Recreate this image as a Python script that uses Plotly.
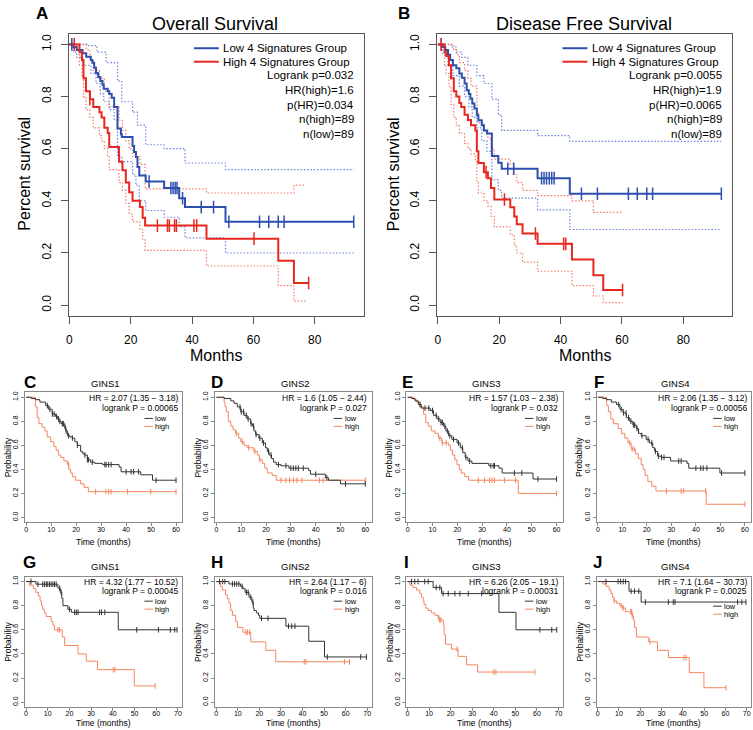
import plotly.graph_objects as go
from bisect import bisect_right

W, H = 753, 730
FONT = "Liberation Sans, Arial, sans-serif"

# ---------------- Panel A : Overall Survival (GEPIA) ----------------
A_low_t = [0, 1.3, 2.4, 4.3, 5.5, 7.0, 7.5, 8.1, 8.7, 9.4, 10.1, 10.8, 11.2, 12.5, 13.0, 13.8, 14.6, 15.7, 16.8, 17.1, 20.6, 21.1, 21.7, 22.2, 22.8, 24.9, 30.9, 35.8, 37.7, 50.9, 92.7]
A_low_s = [1.0, 0.99, 0.978, 0.966, 0.953, 0.94, 0.93, 0.91, 0.89, 0.875, 0.86, 0.845, 0.83, 0.82, 0.81, 0.795, 0.76, 0.677, 0.655, 0.645, 0.61, 0.587, 0.568, 0.53, 0.497, 0.474, 0.449, 0.41, 0.376, 0.32, 0.32]
A_low_c = [0.8, 26.0, 33.1, 33.8, 34.5, 35.1, 36.9, 43.0, 47.0, 52.0, 62.0, 65.0, 68.1, 70.0, 92.7]
A_high_t = [0, 3.3, 4.1, 4.6, 5.4, 6.7, 7.8, 9.8, 10.5, 11.4, 12.5, 13.0, 16.2, 17.3, 18.4, 19.5, 20.6, 23.0, 23.9, 24.7, 44.7, 68.1, 73.2, 78.0]
A_high_s = [1.0, 0.97, 0.94, 0.87, 0.82, 0.79, 0.76, 0.74, 0.72, 0.68, 0.66, 0.606, 0.55, 0.517, 0.47, 0.433, 0.40, 0.376, 0.335, 0.305, 0.255, 0.17, 0.085, 0.085]
A_high_c = [1.6, 6.7, 28.7, 32.0, 32.6, 34.3, 34.9, 40.6, 41.5, 60.2, 78.0]
A_low_up_t = [0, 6.0, 9.0, 12.0, 15.7, 17.1, 20.6, 22.2, 24.9, 30.9, 37.7, 50.9, 92.7]
A_low_up_s = [1.0, 0.995, 0.97, 0.93, 0.86, 0.78, 0.74, 0.69, 0.615, 0.6, 0.545, 0.52, 0.52]
A_low_lo_t = [0, 1.3, 2.4, 4.3, 7.0, 8.7, 10.1, 11.2, 13.0, 14.6, 15.7, 17.1, 20.6, 21.7, 22.8, 24.9, 30.9, 35.8, 37.7, 50.9, 92.7]
A_low_lo_s = [1.0, 0.97, 0.95, 0.92, 0.89, 0.85, 0.81, 0.78, 0.75, 0.71, 0.57, 0.55, 0.5, 0.46, 0.40, 0.363, 0.337, 0.30, 0.258, 0.2, 0.2]
A_high_up_t = [0, 5.4, 6.7, 7.8, 9.8, 11.4, 13.0, 16.2, 17.3, 18.4, 19.5, 20.6, 23.0, 24.7, 44.7, 68.1, 73.2, 77.0]
A_high_up_s = [1.0, 0.98, 0.94, 0.9, 0.87, 0.82, 0.76, 0.71, 0.67, 0.63, 0.6, 0.57, 0.54, 0.446, 0.43, 0.43, 0.46, 0.46]
A_high_lo_t = [0, 3.3, 4.1, 4.6, 5.4, 6.7, 7.8, 9.8, 10.5, 11.4, 12.5, 13.0, 16.2, 17.3, 18.4, 19.5, 20.6, 23.0, 23.9, 24.7, 44.7, 68.1, 73.2, 77.0]
A_high_lo_s = [1.0, 0.92, 0.88, 0.8, 0.75, 0.72, 0.68, 0.65, 0.63, 0.6, 0.57, 0.52, 0.47, 0.44, 0.39, 0.35, 0.32, 0.29, 0.25, 0.21, 0.15, 0.075, 0.015, 0.015]

# ---------------- Panel B : Disease Free Survival (GEPIA) ----------------
B_low_t = [0, 1.6, 2.4, 3.3, 4.0, 4.9, 6.0, 7.0, 7.8, 8.7, 9.4, 10.1, 10.6, 11.2, 11.9, 12.7, 13.2, 14.3, 15.0, 16.0, 17.6, 19.7, 20.8, 32.5, 43.0, 92.4]
B_low_s = [1.0, 0.99, 0.978, 0.96, 0.94, 0.92, 0.908, 0.888, 0.872, 0.85, 0.824, 0.81, 0.792, 0.773, 0.754, 0.728, 0.709, 0.69, 0.67, 0.658, 0.572, 0.546, 0.523, 0.487, 0.427, 0.427]
B_low_c = [1.1, 22.8, 24.7, 33.8, 34.6, 35.4, 36.3, 37.1, 37.9, 46.8, 52.0, 62.1, 65.0, 68.1, 70.0, 92.4]
B_high_t = [0, 2.2, 2.7, 3.6, 4.3, 5.2, 6.0, 7.0, 7.6, 8.7, 9.8, 10.8, 12.2, 12.7, 13.2, 15.0, 16.3, 17.3, 18.4, 23.6, 24.9, 25.7, 27.6, 32.5, 43.7, 50.7, 53.9, 60.2]
B_high_s = [1.0, 0.97, 0.955, 0.92, 0.87, 0.82, 0.80, 0.775, 0.76, 0.73, 0.71, 0.69, 0.67, 0.59, 0.545, 0.51, 0.487, 0.449, 0.405, 0.375, 0.34, 0.31, 0.275, 0.235, 0.175, 0.115, 0.058, 0.058]
B_high_c = [1.1, 15.7, 21.7, 31.8, 41.0, 41.7, 60.2]
B_low_up_t = [0, 4.3, 6.0, 7.8, 9.8, 12.7, 15.0, 17.6, 19.7, 20.8, 32.5, 43.0, 92.4]
B_low_up_s = [1.0, 0.99, 0.97, 0.95, 0.92, 0.88, 0.85, 0.79, 0.73, 0.67, 0.65, 0.628, 0.628]
B_low_lo_t = [0, 1.6, 3.3, 4.9, 7.0, 8.7, 10.1, 11.2, 12.7, 14.3, 16.0, 17.6, 19.7, 20.8, 32.5, 43.0, 92.4]
B_low_lo_s = [1.0, 0.96, 0.92, 0.88, 0.84, 0.80, 0.76, 0.72, 0.68, 0.63, 0.59, 0.48, 0.44, 0.41, 0.365, 0.29, 0.29]
B_high_up_t = [0, 5.2, 6.0, 7.0, 8.7, 9.8, 10.8, 12.7, 13.2, 15.0, 16.3, 17.3, 18.4, 23.6, 24.9, 25.7, 27.6, 32.5, 43.7, 50.7, 53.9, 60.2]
B_high_up_s = [1.0, 0.98, 0.96, 0.93, 0.9, 0.87, 0.84, 0.74, 0.7, 0.67, 0.64, 0.6, 0.56, 0.54, 0.5, 0.47, 0.44, 0.42, 0.40, 0.356, 0.356, 0.356]
B_high_lo_t = [0, 2.2, 2.7, 3.6, 4.3, 5.2, 6.0, 7.0, 8.7, 9.8, 10.8, 12.2, 12.7, 13.2, 15.0, 16.3, 17.3, 18.4, 23.6, 24.9, 25.7, 27.6, 32.5, 43.7, 50.7, 53.9, 60.2]
B_high_lo_s = [1.0, 0.92, 0.89, 0.84, 0.77, 0.72, 0.69, 0.66, 0.62, 0.6, 0.58, 0.55, 0.47, 0.43, 0.4, 0.38, 0.34, 0.3, 0.27, 0.23, 0.2, 0.165, 0.13, 0.075, 0.035, 0.01, 0.01]

GEPIA_TITLES = ["Overall Survival", "Disease Free Survival"]
GEPIA_STATS = [
    ["Logrank p=0.032", "HR(high)=1.6", "p(HR)=0.034", "n(high)=89", "n(low)=89"],
    ["Logrank p=0.0055", "HR(high)=1.9", "p(HR)=0.0065", "n(high)=89", "n(low)=89"],
]
GEPIA_LEGEND = ["Low 4 Signatures Group", "High 4 Signatures Group"]
GEPIA_XTICKS = [0, 20, 40, 60, 80]
YTICKS = [0.0, 0.2, 0.4, 0.6, 0.8, 1.0]
YTICK_LABELS = ["0.0", "0.2", "0.4", "0.6", "0.8", "1.0"]

# ---------------- Panels C-F : KM plotter, OS ----------------
C_low_t = [0, 2.0, 3.7, 5.5, 7.8, 9.0, 10.4, 11.8, 12.5, 13.1, 14.0, 15.1, 15.8, 16.5, 17.5, 18.5, 19.5, 20.5, 21.8, 22.5, 23.2, 24.5, 25.8, 27.5, 30.5, 37.2, 38.0, 45.9, 50.6, 60.0]
C_low_s = [1.0, 0.99, 0.98, 0.96, 0.93, 0.90, 0.86, 0.84, 0.82, 0.80, 0.78, 0.76, 0.72, 0.68, 0.67, 0.66, 0.63, 0.60, 0.55, 0.535, 0.52, 0.48, 0.46, 0.45, 0.44, 0.42, 0.38, 0.355, 0.31, 0.31]
C_low_c = [8.5, 9.5, 10.5, 11.2, 12.2, 13.0, 13.5, 14.5, 15.0, 15.5, 16.0, 17.0, 18.5, 20.5, 23.5, 24.5, 25.0, 26.5, 31.5, 32.0, 33.0, 34.0, 40.0, 42.0, 43.0, 45.0, 52.0, 60.0]
C_high_t = [0, 3.7, 4.4, 5.1, 6.4, 7.5, 8.4, 9.8, 11.1, 12.0, 12.9, 13.8, 15.1, 16.5, 17.1, 17.8, 18.5, 19.8, 21.8, 23.2, 24.9, 60.0]
C_high_s = [1.0, 0.92, 0.83, 0.78, 0.75, 0.72, 0.67, 0.63, 0.59, 0.56, 0.52, 0.50, 0.47, 0.44, 0.40, 0.37, 0.34, 0.31, 0.28, 0.25, 0.215, 0.215]
C_high_c = [17.0, 27.8, 31.9, 33.0, 34.0, 40.6, 49.9, 60.0]

D_low_t = [0, 3.1, 5.8, 7.1, 8.4, 9.8, 11.1, 12.4, 13.8, 14.5, 15.1, 15.8, 17.1, 18.5, 19.8, 20.5, 21.2, 22.2, 23.0, 24.1, 26.0, 29.2, 37.2, 37.9, 43.9, 45.2, 50.0, 60.0]
D_low_s = [1.0, 0.99, 0.97, 0.95, 0.92, 0.88, 0.85, 0.82, 0.78, 0.76, 0.72, 0.69, 0.66, 0.62, 0.58, 0.55, 0.52, 0.49, 0.46, 0.44, 0.43, 0.41, 0.39, 0.36, 0.33, 0.31, 0.28, 0.28]
D_low_c = [9.5, 10.0, 11.0, 12.0, 12.8, 14.0, 15.0, 16.0, 17.5, 19.0, 21.0, 22.0, 25.0, 28.0, 30.0, 31.0, 32.0, 33.0, 35.0, 40.0, 44.5, 52.0, 60.0]
D_high_t = [0, 3.1, 3.5, 4.0, 4.8, 5.8, 6.7, 7.7, 9.0, 9.8, 11.1, 12.4, 15.1, 16.5, 17.3, 18.5, 19.5, 20.5, 22.5, 24.1, 60.0]
D_high_s = [1.0, 0.96, 0.92, 0.88, 0.80, 0.76, 0.73, 0.70, 0.66, 0.63, 0.60, 0.58, 0.55, 0.52, 0.48, 0.45, 0.41, 0.37, 0.35, 0.31, 0.31]
D_high_c = [8.0, 10.5, 13.0, 15.5, 17.5, 26.0, 28.0, 29.5, 31.0, 32.5, 34.5, 41.5, 43.0, 60.0]

E_low_t = [0, 1.6, 3.0, 4.3, 5.5, 9.1, 10.4, 11.8, 13.1, 14.5, 15.4, 16.5, 17.8, 19.9, 21.2, 22.2, 23.2, 24.3, 25.9, 32.7, 36.8, 38.1, 50.5, 60.0]
E_low_s = [1.0, 0.99, 0.97, 0.94, 0.91, 0.89, 0.85, 0.82, 0.79, 0.76, 0.72, 0.68, 0.65, 0.62, 0.58, 0.54, 0.50, 0.47, 0.45, 0.43, 0.41, 0.37, 0.32, 0.32]
E_low_c = [5.0, 7.0, 8.5, 10.0, 11.5, 12.5, 13.5, 14.0, 15.0, 16.0, 17.0, 18.5, 20.5, 22.0, 23.5, 25.0, 33.5, 34.5, 35.0, 43.0, 46.0, 52.5, 60.0]
E_high_t = [0, 2.5, 3.6, 5.0, 6.4, 7.3, 8.3, 9.5, 11.0, 12.4, 13.8, 16.5, 17.2, 18.1, 19.0, 19.9, 20.8, 21.6, 23.0, 24.6, 44.6, 60.0]
E_high_s = [1.0, 0.98, 0.96, 0.92, 0.86, 0.79, 0.76, 0.72, 0.70, 0.66, 0.62, 0.60, 0.56, 0.52, 0.48, 0.44, 0.40, 0.37, 0.34, 0.31, 0.20, 0.20]
E_high_c = [13.0, 14.0, 15.5, 28.5, 31.0, 33.0, 34.0, 35.0, 39.0, 43.5, 60.0]

F_low_t = [0, 2.0, 3.6, 5.5, 7.6, 9.0, 10.3, 11.6, 13.0, 14.3, 15.7, 16.6, 17.7, 19.7, 21.0, 22.4, 23.2, 24.4, 25.8, 29.7, 36.4, 37.1, 49.8, 60.0]
F_low_s = [1.0, 0.99, 0.98, 0.96, 0.94, 0.90, 0.87, 0.83, 0.80, 0.77, 0.74, 0.70, 0.68, 0.65, 0.62, 0.58, 0.55, 0.51, 0.50, 0.47, 0.45, 0.41, 0.37, 0.37]
F_low_c = [8.5, 9.5, 10.5, 11.5, 12.5, 13.5, 14.5, 15.0, 16.0, 18.0, 20.5, 22.0, 23.5, 24.8, 26.0, 27.0, 33.0, 34.0, 40.0, 42.0, 43.0, 44.5, 50.5, 60.0]
F_high_t = [0, 3.6, 4.3, 5.3, 6.3, 8.3, 9.6, 11.0, 12.3, 13.6, 15.3, 16.5, 17.7, 18.5, 19.3, 20.4, 22.0, 23.7, 44.2, 60.0]
F_high_s = [1.0, 0.93, 0.88, 0.82, 0.78, 0.74, 0.70, 0.66, 0.62, 0.57, 0.53, 0.49, 0.44, 0.40, 0.35, 0.30, 0.26, 0.22, 0.11, 0.11]
F_high_c = [13.0, 14.0, 14.8, 28.0, 34.0, 35.0, 44.0, 60.0]

# ---------------- Panels G-J : KM plotter, second cohort ----------------
G_low_t = [0, 4.6, 14.7, 15.8, 16.5, 17.0, 19.3, 20.9, 42.5, 69.6]
G_low_s = [1.0, 0.978, 0.945, 0.91, 0.86, 0.80, 0.77, 0.745, 0.60, 0.60]
G_low_c = [2.3, 5.5, 7.7, 8.5, 9.3, 10.0, 10.8, 11.6, 12.4, 13.1, 13.9, 15.5, 16.2, 20.0, 22.4, 23.2, 24.0, 33.9, 34.8, 36.3, 51.0, 61.0, 66.5, 68.5, 69.6]
G_high_t = [0, 1.5, 3.4, 4.6, 5.7, 6.5, 7.1, 7.7, 8.5, 9.3, 11.6, 12.4, 13.1, 16.7, 17.8, 24.0, 27.8, 32.9, 49.9, 59.5]
G_high_s = [1.0, 0.97, 0.94, 0.91, 0.88, 0.84, 0.80, 0.77, 0.74, 0.71, 0.67, 0.64, 0.60, 0.54, 0.47, 0.40, 0.34, 0.27, 0.135, 0.135]
G_high_c = [14.7, 15.5, 40.2, 41.0, 59.5]

H_low_t = [0, 5.9, 11.3, 12.4, 13.4, 15.2, 16.5, 17.2, 17.5, 18.6, 19.6, 20.2, 32.3, 42.9, 50.2, 69.6]
H_low_s = [1.0, 0.98, 0.96, 0.94, 0.91, 0.87, 0.83, 0.78, 0.76, 0.74, 0.72, 0.695, 0.63, 0.505, 0.375, 0.375]
H_low_c = [1.5, 3.0, 4.0, 7.5, 8.5, 9.5, 10.5, 12.0, 14.0, 14.8, 16.0, 17.0, 21.0, 24.0, 33.5, 35.0, 36.5, 51.5, 67.0, 69.6]
H_high_t = [0, 2.0, 2.8, 4.3, 5.1, 5.9, 6.7, 7.5, 9.0, 9.8, 12.4, 16.0, 23.0, 27.6, 61.8]
H_high_s = [1.0, 0.96, 0.93, 0.89, 0.86, 0.82, 0.76, 0.72, 0.67, 0.62, 0.58, 0.50, 0.43, 0.335, 0.335]
H_high_c = [13.7, 14.5, 15.5, 40.8, 41.6, 59.5, 61.8]

I_low_t = [0, 11.9, 15.8, 42.4, 50.3, 69.2]
I_low_s = [1.0, 0.95, 0.90, 0.745, 0.60, 0.60]
I_low_c = [1.9, 3.4, 4.9, 8.0, 9.6, 13.3, 15.0, 16.5, 18.9, 22.0, 24.3, 28.2, 34.4, 61.4, 66.9, 69.2]
I_high_t = [0, 1.1, 2.5, 4.2, 5.7, 6.5, 7.3, 7.7, 8.5, 9.6, 11.1, 12.7, 14.2, 15.0, 16.6, 17.0, 17.6, 20.4, 23.5, 27.4, 32.5, 59.1]
I_high_s = [1.0, 0.97, 0.95, 0.93, 0.90, 0.87, 0.84, 0.81, 0.78, 0.76, 0.74, 0.72, 0.70, 0.68, 0.64, 0.56, 0.48, 0.44, 0.38, 0.31, 0.25, 0.25]
I_high_c = [14.5, 15.0, 15.5, 23.0, 40.0, 41.0, 59.1]

J_low_t = [0, 14.7, 20.4, 69.6]
J_low_s = [1.0, 0.92, 0.83, 0.83]
J_low_c = [3.9, 9.6, 10.8, 12.0, 13.1, 15.7, 17.3, 19.3, 22.4, 33.2, 35.5, 36.3, 65.7, 67.7, 69.6]
J_high_t = [0, 2.3, 3.9, 5.4, 6.2, 7.0, 7.7, 8.9, 10.4, 11.6, 13.1, 16.2, 16.7, 17.3, 18.2, 24.0, 28.1, 33.2, 43.0, 49.9, 60.3]
J_high_s = [1.0, 0.98, 0.96, 0.93, 0.90, 0.87, 0.84, 0.82, 0.80, 0.78, 0.75, 0.72, 0.68, 0.62, 0.54, 0.50, 0.43, 0.37, 0.245, 0.12, 0.12]
J_high_c = [7.7, 11.0, 12.0, 15.5, 15.8, 16.2, 24.5, 40.5, 41.5, 60.3]

KM_GENES = ["GINS1", "GINS2", "GINS3", "GINS4", "GINS1", "GINS2", "GINS3", "GINS4"]
KM_HR = ["HR = 2.07 (1.35 − 3.18)", "HR = 1.6 (1.05 − 2.44)", "HR = 1.57 (1.03 − 2.38)", "HR = 2.06 (1.35 − 3.12)",
         "HR = 4.32 (1.77 − 10.52)", "HR = 2.64 (1.17 − 6)", "HR = 6.26 (2.05 − 19.1)", "HR = 7.1 (1.64 − 30.73)"]
KM_P = ["logrank P = 0.00065", "logrank P = 0.027", "logrank P = 0.032", "logrank P = 0.00056",
        "logrank P = 0.00045", "logrank P = 0.016", "logrank P = 0.00031", "logrank P = 0.0025"]
KM_LETTERS = ["C", "D", "E", "F", "G", "H", "I", "J"]
KM_XTICKS_ROW2 = [0, 10, 20, 30, 40, 50, 60]
KM_XTICKS_ROW3 = [0, 10, 20, 30, 40, 50, 60, 70]

# ---------------- styling ----------------
BLUE = "#2c50ae"
RED = "#e8261e"
BLUE_CI = "rgba(80,110,215,0.85)"
RED_CI = "rgba(242,100,80,0.85)"
LOW_KM = "#333333"
HIGH_KM = "#f4865f"
BOX_G = "#555555"
BOX_K = "#8a8a8a"


def fx(p):
    return p / W


def fy(p):
    return 1 - p / H


def step_at(t, s, x):
    i = bisect_right(t, x) - 1
    return s[max(i, 0)]


fig = go.Figure()
layout_axes = {}
annotations = []
shapes = []


def names(i):
    return ("x", "y", "xaxis", "yaxis") if i == 1 else (f"x{i}", f"y{i}", f"xaxis{i}", f"yaxis{i}")


def add_axes(i, box, xr, xtv, lc, tfs, tlen, xstand, ystand):
    xn, yn, xk, yk = names(i)
    x0, y0, x1, y1 = box
    common = dict(ticks="outside", ticklen=tlen, tickwidth=1, tickcolor=lc, showline=True,
                  linecolor=lc, linewidth=1, mirror=True, showgrid=False, zeroline=False,
                  tickfont=dict(family=FONT, size=tfs, color="black"), fixedrange=True)
    layout_axes[xk] = dict(domain=[fx(x0), fx(x1)], range=xr, tickvals=xtv,
                           ticktext=[str(v) for v in xtv], anchor=yn,
                           ticklabelstandoff=xstand, **common)
    layout_axes[yk] = dict(domain=[fy(y1), fy(y0)], range=[-0.04, 1.04], tickvals=YTICKS,
                           ticktext=YTICK_LABELS, tickangle=-90, anchor=xn,
                           ticklabelstandoff=ystand, **common)
    return xn, yn


def line(xn, yn, t, s, color, width, dash="solid"):
    fig.add_trace(go.Scatter(x=t, y=s, xaxis=xn, yaxis=yn, mode="lines", line_shape="hv",
                             line=dict(color=color, width=width, dash=dash),
                             hoverinfo="skip", showlegend=False))


def cens(xn, yn, t, s, c, color, size, width):
    fig.add_trace(go.Scatter(x=c, y=[step_at(t, s, v) for v in c], xaxis=xn, yaxis=yn,
                             mode="markers",
                             marker=dict(symbol="line-ns", size=size, color=color,
                                         line=dict(color=color, width=width)),
                             hoverinfo="skip", showlegend=False))


def text(x, y, s, size, anchor="center", bold=False, color="black", angle=0):
    annotations.append(dict(x=fx(x), y=fy(y), xref="paper", yref="paper", text=(f"<b>{s}</b>" if bold else s),
                            showarrow=False, xanchor=anchor, yanchor="middle", textangle=angle,
                            borderpad=0, font=dict(family=FONT, size=size, color=color)))


def seg(x0, x1, y, color, width):
    shapes.append(dict(type="line", xref="paper", yref="paper", x0=fx(x0), x1=fx(x1), y0=fy(y), y1=fy(y),
                       line=dict(color=color, width=width)))


# ---------------- GEPIA panels ----------------
gepia = [
    dict(box=(66, 33, 362, 315), letter="A", lx=39,
         low=(A_low_t, A_low_s, A_low_c), high=(A_high_t, A_high_s, A_high_c),
         ci=[(A_low_up_t, A_low_up_s, BLUE_CI), (A_low_lo_t, A_low_lo_s, BLUE_CI),
             (A_high_up_t, A_high_up_s, RED_CI), (A_high_lo_t, A_high_lo_s, RED_CI)]),
    dict(box=(436, 33, 732, 315), letter="B", lx=403,
         low=(B_low_t, B_low_s, B_low_c), high=(B_high_t, B_high_s, B_high_c),
         ci=[(B_low_up_t, B_low_up_s, BLUE_CI), (B_low_lo_t, B_low_lo_s, BLUE_CI),
             (B_high_up_t, B_high_up_s, RED_CI), (B_high_lo_t, B_high_lo_s, RED_CI)]),
]
for k, p in enumerate(gepia):
    i = k + 1
    x0, y0, x1, y1 = p["box"]
    xn, yn = add_axes(i, p["box"], [-0.2, 95.9], GEPIA_XTICKS, BOX_G, 12, 7, 6, 5)
    for t, s, col in p["ci"]:
        line(xn, yn, t, s, col, 1.2, "1.5px,1.8px")
    line(xn, yn, p["low"][0], p["low"][1], BLUE, 2)
    line(xn, yn, p["high"][0], p["high"][1], RED, 2)
    cens(xn, yn, *p["low"], BLUE, 9, 1.5)
    cens(xn, yn, *p["high"], RED, 9, 1.5)
    cx = (x0 + x1) / 2
    text(p["lx"], 13, p["letter"], 17, bold=True)
    text(cx - 1, 23, GEPIA_TITLES[k], 18)
    text(x0 - 44, 173, "Percent survival", 16, angle=-90)
    text(cx, 355, "Months", 16)
    # legend
    seg(x0 + 125.7, x0 + 150.7, 47.3, BLUE, 2)
    seg(x0 + 125.7, x0 + 150.7, 60.8, RED, 2)
    text(x0 + 154, 47.3, GEPIA_LEGEND[0], 11.5, anchor="left")
    text(x0 + 154, 60.8, GEPIA_LEGEND[1], 11.5, anchor="left")
    for j, (ty, st) in enumerate(zip([74.5, 89, 104, 118.5, 133], GEPIA_STATS[k])):
        text(x1 - 9, ty, st, 11.5, anchor="right")

# ---------------- KM plotter panels ----------------
cols = [(22, 180), (213, 370), (405, 562), (596, 751)]
rows = [dict(y0=392, y1=522, xr=[-0.5, 62.5], xt=KM_XTICKS_ROW2, letter_y=382, title_y=383,
             hr_y=398, p_y=408, leg=[(418, 426)] * 4, lab_y=541.7),
        dict(y0=576.5, y1=707, xr=[-0.5, 72.0], xt=KM_XTICKS_ROW3, letter_y=562, title_y=566,
             hr_y=581.5, p_y=591, leg=[(601, 609), (601, 609), (601, 609), (606, 614)],
             lab_y=723)]
km_data = [
    (C_low_t, C_low_s, C_low_c, C_high_t, C_high_s, C_high_c),
    (D_low_t, D_low_s, D_low_c, D_high_t, D_high_s, D_high_c),
    (E_low_t, E_low_s, E_low_c, E_high_t, E_high_s, E_high_c),
    (F_low_t, F_low_s, F_low_c, F_high_t, F_high_s, F_high_c),
    (G_low_t, G_low_s, G_low_c, G_high_t, G_high_s, G_high_c),
    (H_low_t, H_low_s, H_low_c, H_high_t, H_high_s, H_high_c),
    (I_low_t, I_low_s, I_low_c, I_high_t, I_high_s, I_high_c),
    (J_low_t, J_low_s, J_low_c, J_high_t, J_high_s, J_high_c),
]
letter_x = [27, 215, 406, 598, 27, 215, 405, 597]
for k in range(8):
    i = k + 3
    r = rows[k // 4]
    c0, c1 = cols[k % 4]
    box = (c0, r["y0"], c1, r["y1"])
    xn, yn = add_axes(i, box, r["xr"], r["xt"], BOX_K, 7, 3, -3, 0)
    lt, ls, lc_, ht, hs, hc = km_data[k]
    line(xn, yn, ht, hs, HIGH_KM, 1)
    line(xn, yn, lt, ls, LOW_KM, 1)
    cens(xn, yn, ht, hs, hc, HIGH_KM, 4, 1)
    cens(xn, yn, lt, ls, lc_, LOW_KM, 4, 1)
    cx = (c0 + c1) / 2
    text(letter_x[k], r["letter_y"], KM_LETTERS[k], 17, bold=True)
    text(cx + 2, r["title_y"], KM_GENES[k], 9.5)
    text(c1 - 3.5, r["hr_y"], KM_HR[k], 8.5, anchor="right")
    text(c1 - 3.5, r["p_y"], KM_P[k], 8.5, anchor="right")
    ly_low, ly_high = r["leg"][k % 4]
    seg(c1 - 38, c1 - 29.5, ly_low, LOW_KM, 1)
    seg(c1 - 38, c1 - 29.5, ly_high, HIGH_KM, 1)
    text(c1 - 28, ly_low, "low", 7.5, anchor="left")
    text(c1 - 28, ly_high, "high", 7.5, anchor="left")
    text(c0 - 17, (r["y0"] + r["y1"]) / 2, "Probability", 8.5, angle=-90)
    text(cx, r["lab_y"], "Time (months)", 8.5)

fig.update_layout(width=W, height=H, margin=dict(l=0, r=0, t=0, b=0),
                  paper_bgcolor="white", plot_bgcolor="white", showlegend=False,
                  annotations=annotations, shapes=shapes, **layout_axes)
fig.write_html("out.html", config={"displayModeBar": False, "staticPlot": True},
               post_script="document.body.style.margin='0px';document.body.style.overflow='hidden';")
